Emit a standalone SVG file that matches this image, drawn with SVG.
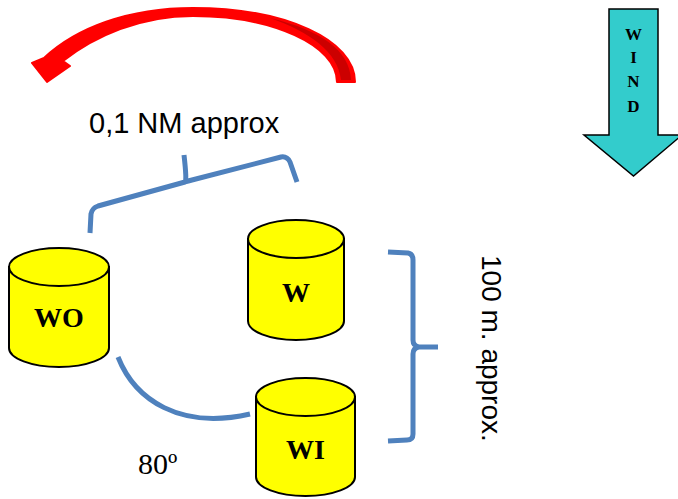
<svg xmlns="http://www.w3.org/2000/svg" width="678" height="499" viewBox="0 0 678 499">
<style>
.cyl{fill:#ffff00;stroke:#000;stroke-width:2}
.lbl{font-family:"Liberation Serif","Times New Roman",serif;font-weight:bold;font-size:28px;fill:#000;text-anchor:middle}
.brace{fill:none;stroke:#4f81bd;stroke-width:5;stroke-linecap:butt;stroke-linejoin:round}
.sans{font-family:"Liberation Sans",Arial,sans-serif;fill:#000}
.wind{font-family:"Liberation Serif","Times New Roman",serif;font-weight:bold;font-size:17px;text-anchor:middle;fill:#000}
</style>
<rect width="678" height="499" fill="#fff"/>

<g id="rotation-arrow">
<path d="M355,82 C355,40 285,8 193,8 C128,8 76,28 44,58 L32,63 L47,82 L70,66 L63,61 C95,36 140,16 193,16 C272,16 337,45 337,82 Z" fill="#ff0000" stroke="#ff0000" stroke-width="2" stroke-linejoin="round"/>
<path d="M351,80 C350,50 320,30 270,18 C310,32 338,52 341,80 Z" fill="#cc0000"/>
</g>

<g id="wind">
<polygon points="609,9 658,9 658,135 682,135 633.5,176 584,135 609,135" fill="#33cccc" stroke="#000" stroke-width="1.5"/>
<text class="wind" x="633.5" y="40">W</text>
<text class="wind" x="633.5" y="63">I</text>
<text class="wind" x="633.5" y="87">N</text>
<text class="wind" x="633.5" y="112">D</text>
</g>

<g id="label-nm">
<text class="sans" x="89" y="133" font-size="29">0,1 NM approx</text>
</g>

<g id="connectors">
<path class="brace" d="M90,233 L91,214 Q92,208 98,206 L185,182 Q187,181 184,155 M185,182 Q188,181 192,180 L281,157 Q287,156 290,162 L297,182"/>
<path class="brace" d="M118,357 C135,400 180,430 250,414"/>
<path class="brace" d="M388,252 L408,253 Q413,254 413,260 L413,340 Q413,346 419,347 L438,347 M419,347 Q413,348 413,354 L413,434 Q413,440 407,440 L388,441"/>
</g>

<g id="label-100m">
<text class="sans" font-size="28" transform="translate(482,255) rotate(90)" x="0" y="0">100 m. approx.</text>
</g>

<g id="node-WO">
<path class="cyl" d="M9,267 L9,348 A50,19 0 0 0 109,348 L109,267 Z"/>
<ellipse class="cyl" cx="59" cy="267" rx="50" ry="19"/>
<text class="lbl" x="59" y="327">WO</text>
</g>

<g id="node-W">
<path class="cyl" d="M248,239 L248,321 A48,19 0 0 0 344,321 L344,239 Z"/>
<ellipse class="cyl" cx="296" cy="239" rx="48" ry="19"/>
<text class="lbl" x="296" y="302">W</text>
</g>

<g id="node-WI">
<path class="cyl" d="M256,397 L256,477 A49.5,19 0 0 0 355,477 L355,397 Z"/>
<ellipse class="cyl" cx="305.5" cy="397" rx="49.5" ry="19"/>
<text class="lbl" x="305.5" y="459">WI</text>
</g>

<g id="label-80">
<text x="138" y="474" font-family="'Liberation Serif','Times New Roman',serif" font-size="30" fill="#000">80º</text>
</g>
</svg>
